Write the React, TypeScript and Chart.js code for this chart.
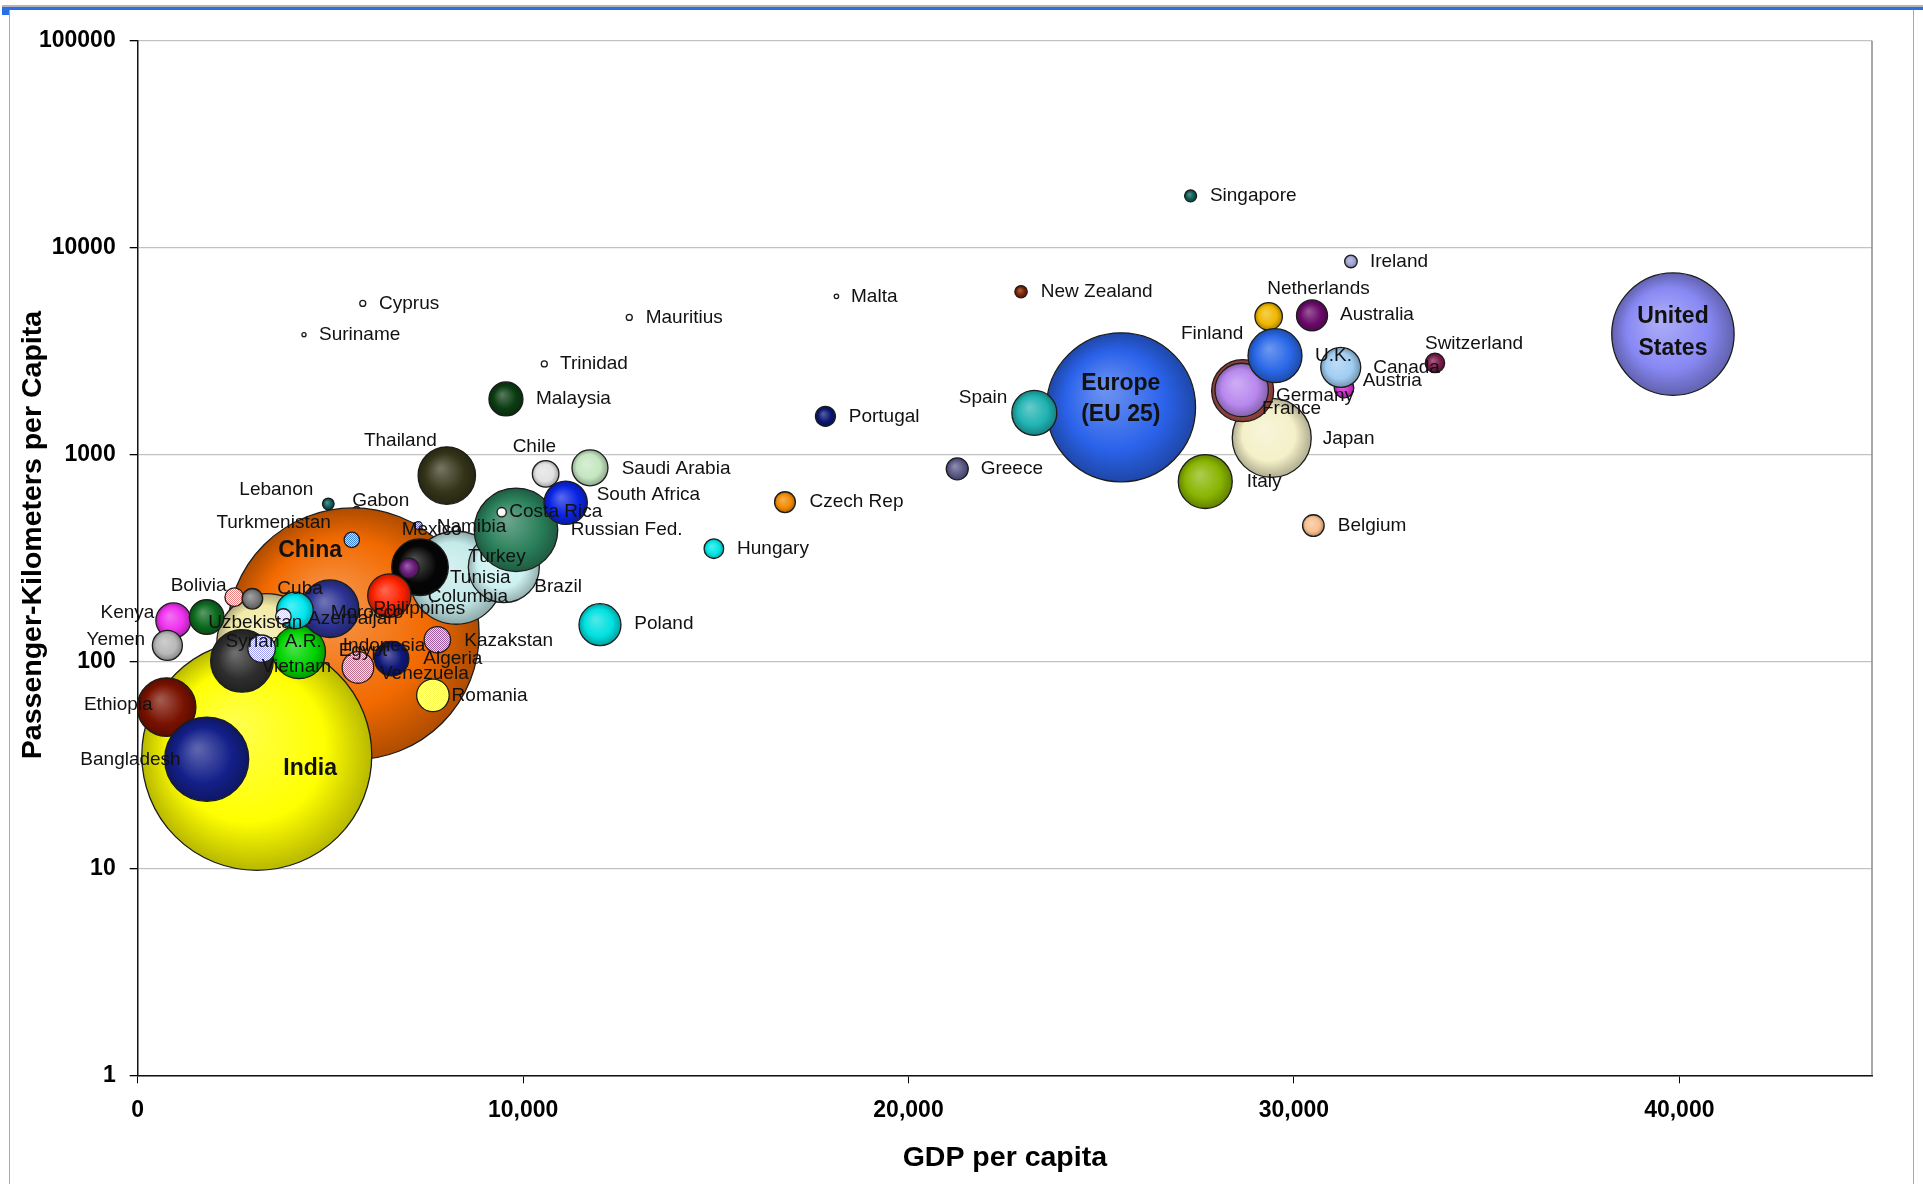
import React, { useEffect, useRef } from 'react';
import { Chart, registerables } from 'chart.js';

Chart.register(...registerables);

// Countries in drawing order (later entries are painted on top).
const countries = [
  'Gabon', 'Finland', 'China', 'Indonesia', 'India', 'Ethiopia', 'Bangladesh', 'Kenya',
  'Uzbekistan', 'Yemen', 'Bolivia', 'Cuba', 'Egypt', 'Vietnam', 'Syrian A.R.', 'Philippines',
  'Morocco', 'Azerbaijan', 'Venezuela', 'Algeria', 'Kazakstan', 'Romania', 'Turkmenistan',
  'Lebanon', 'Namibia', 'Brazil', 'Turkey', 'Tunisia', 'Columbia', 'Mexico', 'Thailand',
  'Russian Fed.', 'Costa Rica', 'Chile', 'South Africa', 'Saudi Arabia', 'Malaysia', 'Trinidad',
  'Cyprus', 'Suriname', 'Mauritius', 'Malta', 'Portugal', 'Czech Rep', 'Hungary', 'Poland',
  'Europe (EU 25)', 'Spain', 'Greece', 'New Zealand', 'Singapore', 'Ireland', 'Japan', 'Italy',
  'Belgium', 'Germany', 'France', 'Netherlands', 'Australia', 'U.K.', 'Austria', 'Canada',
  'Switzerland', 'United States',
];

// GDP per capita (US$)
const gdpPerCapita = [
  5680, 29250, 5590, 3350, 3090, 750, 1790, 925,
  1790, 770, 2505, 2975, 2705, 4185, 3215, 4990,
  4080, 3780, 5715, 6590, 7775, 7660, 5555,
  4945, 7280, 8260, 7325, 7045, 6530, 9500, 8020,
  9815, 9445, 10585, 11105, 11735, 9555, 10550,
  5840, 4315, 12755, 18130, 17845, 16795, 14950, 11995,
  25515, 23265, 21265, 22920, 27320, 31480, 29425, 27700,
  30505, 28670, 28645, 29345, 30470, 29510, 31300, 31215,
  33660, 39835,
];

// Passenger-kilometers per capita
const passengerKmPerCapita = [
  537, 3470, 136, 122, 35.2, 60.2, 33.7, 158,
  164, 119.6, 204.6, 201, 100.7, 111, 115.3, 180,
  176.5, 165, 93.6, 103.2, 127.4, 68.6, 387,
  578, 454, 254, 285.6, 282.5, 208.5, 285.6, 792,
  433, 527, 807, 585, 863, 1858, 2742,
  5378, 3797, 4603, 5820, 1531, 589, 351, 150.6,
  1692, 1590, 853, 6124, 17810, 8580, 1204, 741,
  454, 2037, 2053, 4654, 4706, 3006, 2099, 2640,
  2773, 3822,
];

// Population (millions) - sets the bubble area
const populationMillions = [
  1.3, 5.2, 1318, 208, 1098, 71.3, 146.5, 25.4,
  24.9, 18.7, 7.2, 8.8, 81.4, 58.3, 15.6, 68.9,
  27.8, 5, 20.7, 24.6, 14.5, 22, 4.9,
  2.8, 1.3, 179.6, 66.5, 8.3, 39, 104.7, 68.4,
  145, 1.8, 14.7, 39, 26.9, 24, 0.75,
  0.75, 0.35, 0.75, 0.4, 8.3, 9, 8, 36.6,
  461, 42, 10, 3.2, 3, 3.3, 129.6, 60.5,
  9.7, 79.8, 59.2, 15.6, 20, 60.5, 8, 33.2,
  7.8, 311,
];

const xTicks = [0, 10000, 20000, 30000, 40000];
const yTicks = [1, 10, 100, 1000, 10000, 100000];

const X_TITLE = 'GDP per capita';
const Y_TITLE = 'Passenger-Kilometers per Capita';

// ---- styling ----
const RADIUS_PER_SQRT_MILLION = 3.47;
const FONT = '"Liberation Sans", Arial, Helvetica, sans-serif';

const bubbleColors: Record<string, string> = {
  'Gabon': '#ff33cc', 'Finland': '#4f81bd', 'China': '#f26a00', 'Indonesia': '#f2eaa6',
  'India': '#ffff00', 'Ethiopia': '#7a1200', 'Bangladesh': '#14208a', 'Kenya': '#ee30ee',
  'Uzbekistan': '#0c6a1e', 'Yemen': '#b8b8b8', 'Bolivia': '#f08080', 'Cuba': '#777777',
  'Egypt': '#2e2e2e', 'Vietnam': '#00d400', 'Syrian A.R.': '#9c9cf0', 'Philippines': '#2e3494',
  'Morocco': '#00e6f0', 'Azerbaijan': '#d0d0f8', 'Venezuela': '#c0708c', 'Algeria': '#10187a',
  'Kazakstan': '#a060a0', 'Romania': '#ffff50', 'Turkmenistan': '#3c82dc', 'Lebanon': '#0a5c5c',
  'Namibia': '#7070c8', 'Brazil': '#c4eaea', 'Turkey': '#050505', 'Tunisia': '#6a1a7a',
  'Columbia': '#ff2200', 'Mexico': '#cdf1f1', 'Thailand': '#35351a', 'Russian Fed.': '#2a7f5a',
  'Costa Rica': '#ffffff', 'Chile': '#e2e2e2', 'South Africa': '#0a24e4', 'Saudi Arabia': '#c4e6c0',
  'Malaysia': '#0b3c12', 'Trinidad': '#ffffff', 'Cyprus': '#ffffff', 'Suriname': '#ffffff',
  'Mauritius': '#ffffff', 'Malta': '#ffffff', 'Portugal': '#0a1672', 'Czech Rep': '#f08a00',
  'Hungary': '#00e6e6', 'Poland': '#00e0e0', 'Europe (EU 25)': '#2a62ea', 'Spain': '#20b2b2',
  'Greece': '#5a5a88', 'New Zealand': '#7a2000', 'Singapore': '#0a5c52', 'Ireland': '#a0a0d2',
  'Japan': '#f4f0c8', 'Italy': '#88b400', 'Belgium': '#f8c090', 'Germany': '#b4504a',
  'France': '#b888ee', 'Netherlands': '#f0b800', 'Australia': '#6a0a6a', 'U.K.': '#2a68e8',
  'Austria': '#cc33cc', 'Canada': '#a0cdf2', 'Switzerland': '#7a1a4a', 'United States': '#8888f4',
};

// dithered fills: second colour alternates with the base colour
const hatchColors: Record<string, string> = {
  'Bolivia': '#ffffff', 'Turkmenistan': '#c8e0ff', 'Syrian A.R.': '#ffffff', 'Azerbaijan': '#ffffff',
  'Kazakstan': '#f0d0f0', 'Venezuela': '#f8e0ec', 'Romania': '#ffffff', 'Namibia': '#e0e0ff',
};

// label anchor offset (px) from the bubble centre, and text alignment
const labelPlacement: Record<string, [number, number, CanvasTextAlign]> = {
  'Gabon': [-4.4, -10, 'left'], 'Finland': [-21.7, -9.3, 'right'], 'China': [-43, -83.3, 'center'],
  'Indonesia': [76, 2.4, 'left'], 'India': [53.3, 13.3, 'center'], 'Ethiopia': [-14, -2.7, 'right'],
  'Bangladesh': [-26, 1, 'right'], 'Kenya': [-19, -7.7, 'right'], 'Uzbekistan': [1.6, 6, 'left'],
  'Yemen': [-22.3, -6, 'right'], 'Bolivia': [-7.6, -11.7, 'right'], 'Cuba': [25, -10, 'left'],
  'Egypt': [96.7, -10.5, 'left'], 'Vietnam': [-37.3, 15, 'left'], 'Syrian A.R.': [-36, -6.6, 'left'],
  'Philippines': [43.3, 0, 'left'], 'Morocco': [35.7, 2, 'left'], 'Azerbaijan': [24.7, 2, 'left'],
  'Venezuela': [22, 6.3, 'left'], 'Algeria': [31.6, 0, 'left'], 'Kazakstan': [27, 0.7, 'left'],
  'Romania': [18.7, 0, 'left'], 'Turkmenistan': [-21, -17.6, 'right'], 'Lebanon': [-15, -14, 'right'],
  'Namibia': [18.4, 1.7, 'left'], 'Brazil': [78.3, 9.4, 'left'], 'Turkey': [48.3, -10.7, 'left'],
  'Tunisia': [40.7, 9.6, 'left'], 'Columbia': [38.4, 1.7, 'left'], 'Mexico': [-102.1, -37.4, 'left'],
  'Thailand': [-10, -35, 'right'], 'Russian Fed.': [54.7, 0, 'left'], 'Costa Rica': [7.6, 0, 'left'],
  'Chile': [-33, -27.3, 'left'], 'South Africa': [31, -8, 'left'], 'Saudi Arabia': [31.7, 1, 'left'],
  'Malaysia': [30, 0, 'left'], 'Trinidad': [15.7, 0, 'left'], 'Cyprus': [16.3, 0.6, 'left'],
  'Suriname': [15, 0.3, 'left'], 'Mauritius': [16.4, 0, 'left'], 'Malta': [14.6, 0, 'left'],
  'Portugal': [23.3, 0, 'left'], 'Czech Rep': [24.5, 0, 'left'], 'Hungary': [23.2, 0, 'left'],
  'Poland': [34.3, -1, 'left'], 'Europe (EU 25)': [-0.3, -8, 'center'], 'Spain': [-27, -15.6, 'right'],
  'Greece': [23.4, 0, 'left'], 'New Zealand': [19.7, 0, 'left'], 'Singapore': [19.3, 0, 'left'],
  'Ireland': [19, 0, 'left'], 'Japan': [51, 1, 'left'], 'Italy': [41.4, 0.7, 'left'],
  'Belgium': [24.4, 0, 'left'], 'Germany': [33.3, 5, 'left'], 'France': [20.3, 19, 'left'],
  'Netherlands': [-1.4, -28, 'left'], 'Australia': [28, -0.4, 'left'], 'U.K.': [40, 0, 'left'],
  'Austria': [18.7, -7.3, 'left'], 'Canada': [32.6, 0.6, 'left'], 'Switzerland': [-10, -19, 'left'],
  'United States': [0, -1, 'center'],
};

const boldLabels: Record<string, { lines: string[]; spacing: number }> = {
  'China': { lines: ['China'], spacing: 0 },
  'India': { lines: ['India'], spacing: 0 },
  'Europe (EU 25)': { lines: ['Europe', '(EU 25)'], spacing: 31 },
  'United States': { lines: ['United', 'States'], spacing: 32 },
};

function mix(hex: string, t: number): string {
  const n = parseInt(hex.slice(1), 16);
  const ch = [(n >> 16) & 255, (n >> 8) & 255, n & 255];
  const target = t >= 0 ? 255 : 0;
  const k = Math.abs(t);
  const [r, g, b] = ch.map((v) => Math.round(v + (target - v) * k));
  return `rgb(${r},${g},${b})`;
}

function makeHatch(ctx: CanvasRenderingContext2D, a: string, b: string) {
  const cv = document.createElement('canvas');
  cv.width = 2;
  cv.height = 2;
  const p = cv.getContext('2d')!;
  p.fillStyle = b;
  p.fillRect(0, 0, 2, 2);
  p.fillStyle = a;
  p.fillRect(0, 0, 1, 1);
  p.fillRect(1, 1, 1, 1);
  return ctx.createPattern(cv, 'repeat');
}

const bubbleLabels = {
  id: 'bubbleLabels',
  afterDatasetsDraw(chart: any) {
    const meta = chart.getDatasetMeta(0);
    const ctx: CanvasRenderingContext2D = chart.ctx;
    ctx.save();
    ctx.fillStyle = '#111';
    ctx.textBaseline = 'middle';
    countries.forEach((name, i) => {
      const el = meta.data[i];
      const place = labelPlacement[name];
      if (!el || !place) return;
      const [dx, dy, align] = place;
      ctx.textAlign = align;
      const bold = boldLabels[name];
      if (bold) {
        ctx.font = `bold 23px ${FONT}`;
        const n = bold.lines.length;
        bold.lines.forEach((line, k) => {
          const off = (k - (n - 1) / 2) * bold.spacing;
          ctx.fillText(line, el.x + dx, el.y + dy + off);
        });
      } else {
        ctx.font = `19px ${FONT}`;
        ctx.fillText(name, el.x + dx, el.y + dy);
      }
    });
    ctx.restore();
  },
};

const frameAndTitles = {
  id: 'frameAndTitles',
  beforeDatasetsDraw(chart: any) {
    const { ctx, chartArea: a } = chart;
    ctx.save();
    ctx.strokeStyle = '#8a8a8a';
    ctx.lineWidth = 1.5;
    ctx.beginPath();
    ctx.moveTo(a.right, a.top);
    ctx.lineTo(a.right, a.bottom);
    ctx.stroke();
    ctx.restore();
  },
  afterDraw(chart: any) {
    const { ctx, chartArea: a } = chart;
    ctx.save();
    ctx.fillStyle = '#000';
    ctx.font = `bold 28.5px ${FONT}`;
    ctx.textAlign = 'center';
    ctx.textBaseline = 'middle';
    ctx.fillText(X_TITLE, (a.left + a.right) / 2, a.bottom + 83);
    ctx.translate(a.left - 105, (a.top + a.bottom) / 2 - 23);
    ctx.rotate(-Math.PI / 2);
    ctx.fillText(Y_TITLE, 0, 0);
    ctx.restore();
  },
};

export default function App() {
  const canvasRef = useRef<HTMLCanvasElement | null>(null);

  useEffect(() => {
    document.body.style.margin = '0';
    const canvas = canvasRef.current;
    if (!canvas) return;

    const points = countries.map((_, i) => ({
      x: gdpPerCapita[i],
      y: passengerKmPerCapita[i],
      r: Math.sqrt(populationMillions[i]) * RADIUS_PER_SQRT_MILLION,
    }));

    const chart = new Chart(canvas, {
      type: 'bubble',
      data: {
        datasets: [
          {
            label: 'Countries',
            data: points,
            borderColor: '#1c1c1c',
            borderWidth: 1.3,
            backgroundColor: (c: any) => {
              const name = countries[c.dataIndex];
              const base = bubbleColors[name] ?? '#999999';
              if (c.type !== 'data') return base;
              const chartRef = c.chart;
              const hatch = hatchColors[name];
              if (hatch) return makeHatch(chartRef.ctx, base, hatch) ?? base;
              const raw = c.raw;
              const xs = chartRef.scales?.x;
              const ys = chartRef.scales?.y;
              if (!xs || !ys) return base;
              const cx = xs.getPixelForValue(raw.x);
              const cy = ys.getPixelForValue(raw.y);
              const r = Math.max(raw.r, 1);
              if (!Number.isFinite(cx) || !Number.isFinite(cy)) return base;
              const g = chartRef.ctx.createRadialGradient(cx - r * 0.22, cy - r * 0.25, r * 0.05, cx, cy, r);
              g.addColorStop(0, mix(base, 0.3));
              g.addColorStop(0.65, base);
              g.addColorStop(1, mix(base, -0.28));
              return g;
            },
          } as any,
        ],
      },
      options: {
        responsive: false,
        maintainAspectRatio: false,
        devicePixelRatio: 1,
        animation: false,
        events: [],
        layout: { autoPadding: false, padding: { left: 0, top: 40.8, right: 51, bottom: 0 } },
        plugins: { legend: { display: false }, tooltip: { enabled: false } },
        scales: {
          x: {
            type: 'linear',
            position: 'bottom',
            min: 0,
            max: 45000,
            afterBuildTicks: (axis: any) => {
              axis.ticks = xTicks.map((v) => ({ value: v }));
            },
            afterFit: (scale: any) => {
              scale.height = 108.7;
            },
            ticks: {
              autoSkip: false,
              maxRotation: 0,
              padding: 14,
              color: '#000',
              font: { family: FONT, size: 23, weight: 'bold' },
              callback: (v: any) => Number(v).toLocaleString('en-US'),
            },
            grid: { drawOnChartArea: false, drawTicks: true, tickLength: 8, tickColor: '#000' },
            border: { display: true, color: '#111', width: 1.5 },
          },
          y: {
            type: 'logarithmic',
            position: 'left',
            min: 1,
            max: 100000,
            afterBuildTicks: (axis: any) => {
              axis.ticks = yTicks.map((v) => ({ value: v }));
            },
            afterFit: (scale: any) => {
              scale.width = 137.7;
            },
            ticks: {
              autoSkip: false,
              padding: 14,
              color: '#000',
              font: { family: FONT, size: 23, weight: 'bold' },
              callback: (v: any) => String(Number(v)),
            },
            grid: { color: '#c2c2c2', lineWidth: 1.3, drawTicks: true, tickLength: 8, tickColor: '#000' },
            border: { display: true, color: '#111', width: 1.5 },
          },
        },
      } as any,
      plugins: [frameAndTitles, bubbleLabels],
    });

    return () => chart.destroy();
  }, []);

  return (
    <div style={{ position: 'relative', width: 1923, height: 1184, overflow: 'hidden', background: '#fff' }}>
      <canvas ref={canvasRef} width={1923} height={1184} style={{ display: 'block', width: 1923, height: 1184 }} />
      <div style={{ position: 'absolute', left: 2, top: 5, width: 1921, height: 2, background: '#b4b4b4' }} />
      <div style={{ position: 'absolute', left: 2, top: 7, width: 1921, height: 3, background: '#2a6ee8' }} />
      <div style={{ position: 'absolute', left: 2, top: 10, width: 8, height: 5, background: '#2a6ee8' }} />
      <div style={{ position: 'absolute', left: 9, top: 10, width: 1, height: 1174, background: '#a8a8a8' }} />
      <div style={{ position: 'absolute', left: 1913, top: 10, width: 1, height: 1174, background: '#a8a8a8' }} />
    </div>
  );
}
